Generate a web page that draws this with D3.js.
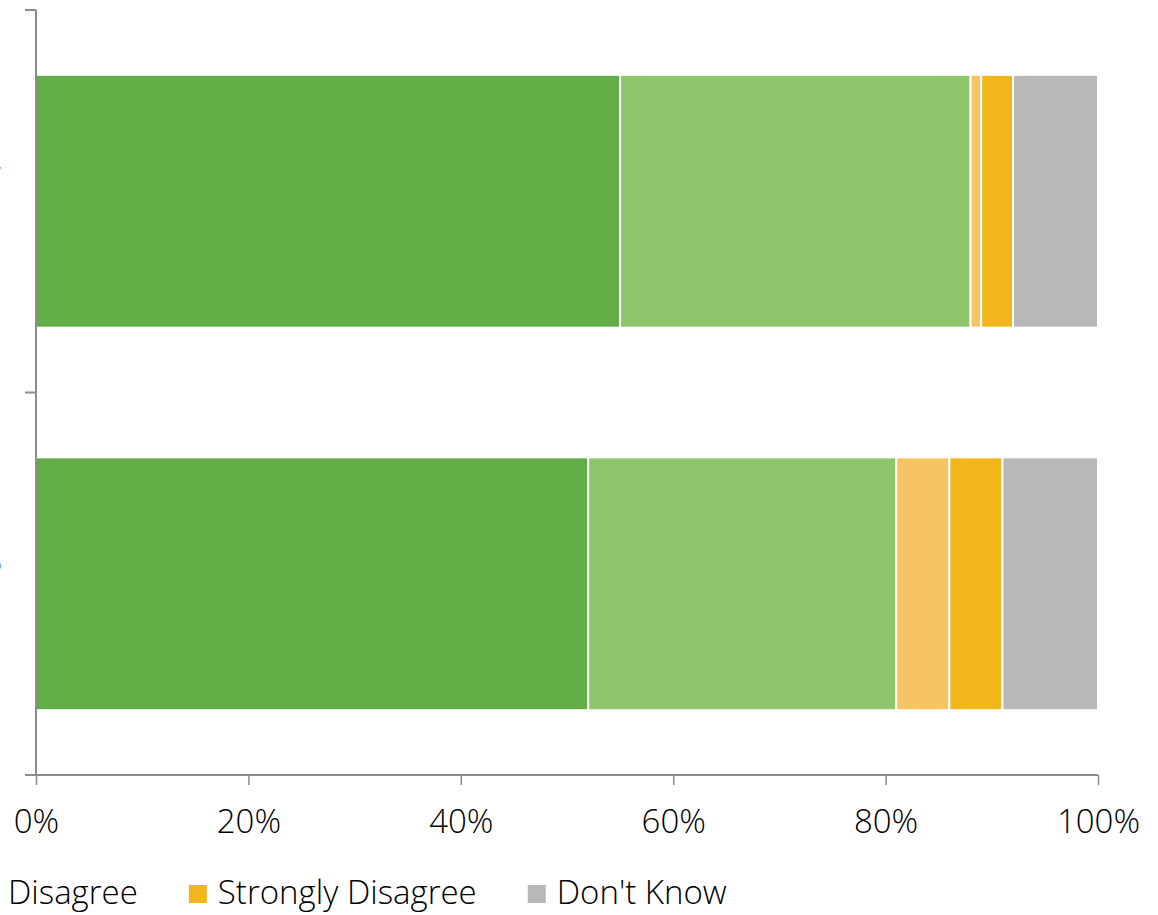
<!DOCTYPE html>
<html><head><meta charset="utf-8">
<script src="https://cdn.jsdelivr.net/npm/d3@7"></script>
<style>
html,body{margin:0;padding:0;background:#fff;overflow:hidden}
svg{display:block}
text{font-family:"Open Sans","Noto Sans",sans-serif;font-weight:300;fill:#000}
</style></head>
<body>
<svg id="chart" width="1158" height="915"></svg>
<script>
const categories = ["2017", "2016"];
const seriesNames = ["Strongly Agree", "Agree", "Disagree", "Strongly Disagree", "Don't Know"];
const stronglyAgree = [55, 52];
const agree = [33, 29];
const disagree = [1, 5];
const stronglyDisagree = [3, 5];
const dontKnow = [8, 9];
const tickValues = [0, 0.2, 0.4, 0.6, 0.8, 1.0];
const colors = ["#63AD47", "#8DC56A", "#F6C462", "#F2B61D", "#B8B8B8"];

(function () {
const svg = d3.select("#chart");
const mLeft = 36, mRight = 1098, mTop = 10, mBottom = 775;

const rows = categories.map((c, i) => ({
  cat: c,
  "Strongly Agree": stronglyAgree[i],
  "Agree": agree[i],
  "Disagree": disagree[i],
  "Strongly Disagree": stronglyDisagree[i],
  "Don't Know": dontKnow[i]
}));
rows.forEach(r => { r.total = seriesNames.reduce((s, k) => s + r[k], 0); });
const norm = rows.map(r => { const o = {cat: r.cat}; seriesNames.forEach(k => o[k] = r[k] / r.total); return o; });
const stacked = d3.stack().keys(seriesNames)(norm);

const x = d3.scaleLinear().domain([0, 1]).range([mLeft, mRight]);
const y = d3.scaleBand().domain(categories).range([mTop, mBottom]).paddingInner(0.339).paddingOuter(0.1695);
const color = d3.scaleOrdinal().domain(seriesNames).range(colors);

// bars
svg.append("g").selectAll("g").data(stacked).join("g")
  .attr("fill", d => color(d.key))
  .selectAll("rect").data(d => d).join("rect")
  .attr("x", d => x(d[0]))
  .attr("y", d => y(d.data.cat))
  .attr("width", d => Math.max(0, x(d[1]) - x(d[0])))
  .attr("height", y.bandwidth())
  .attr("stroke", "#fff").attr("stroke-width", 2);

// y axis labels (mostly outside the visible frame, as in the reference)
const yAxis = d3.axisLeft(y).tickSize(0).tickPadding(34);
const yg = svg.append("g").attr("transform", `translate(${mLeft},0)`).call(yAxis);
yg.select(".domain").remove();
yg.selectAll("text").style("font-size", "33px").style("font-family", "'Open Sans'").style("font-weight", 300)
  .style("fill", "#000").attr("dy", "-0.3em");
// axis line and boundary ticks
const yBounds = [mTop, mTop + y.step(), mBottom];
svg.append("line").attr("x1", mLeft).attr("x2", mLeft).attr("y1", mTop).attr("y2", mBottom + 1)
  .attr("stroke", "#8c8c8c").attr("stroke-width", 2);
svg.append("g").selectAll("line").data(yBounds).join("line")
  .attr("x1", mLeft - 11).attr("x2", mLeft).attr("y1", d => d).attr("y2", d => d)
  .attr("stroke", "#8c8c8c").attr("stroke-width", 2);

// x axis
const xAxis = d3.axisBottom(x).tickValues(tickValues).tickFormat(d3.format(".0%")).tickSize(10).tickSizeOuter(0).tickPadding(25);
const xg = svg.append("g").attr("transform", `translate(0,${mBottom})`).call(xAxis);
xg.select(".domain").attr("stroke", "#8c8c8c").attr("stroke-width", 2).attr("d", `M${mLeft - 11},0H${mRight}`);
xg.selectAll(".tick line").attr("stroke", "#8c8c8c").attr("stroke-width", 1.5);
xg.selectAll(".tick text").style("font-size", "33px").style("font-family", "'Open Sans'").style("font-weight", 300)
  .style("fill", "#000").attr("dy", "0.71em");

// legend
const leg = svg.append("g");
const sw = 18, gapText = 11, gapItem = 51;
const items = leg.selectAll("g").data(seriesNames).join("g");
items.append("rect").attr("width", sw).attr("height", sw).attr("y", 885).attr("fill", d => color(d));
items.append("text").attr("x", sw + gapText).attr("y", 904).text(d => d)
  .style("font-size", "33px");
let cx = 0; const pos = [];
items.each(function(d) {
  const w = d3.select(this).select("text").node().getComputedTextLength();
  pos.push(cx);
  cx += sw + gapText + w + gapItem;
});
const shift = 8 - (pos[2] + sw + gapText);
items.attr("transform", (d, i) => `translate(${pos[i] + shift},0)`);
})();
</script>
</body></html>
